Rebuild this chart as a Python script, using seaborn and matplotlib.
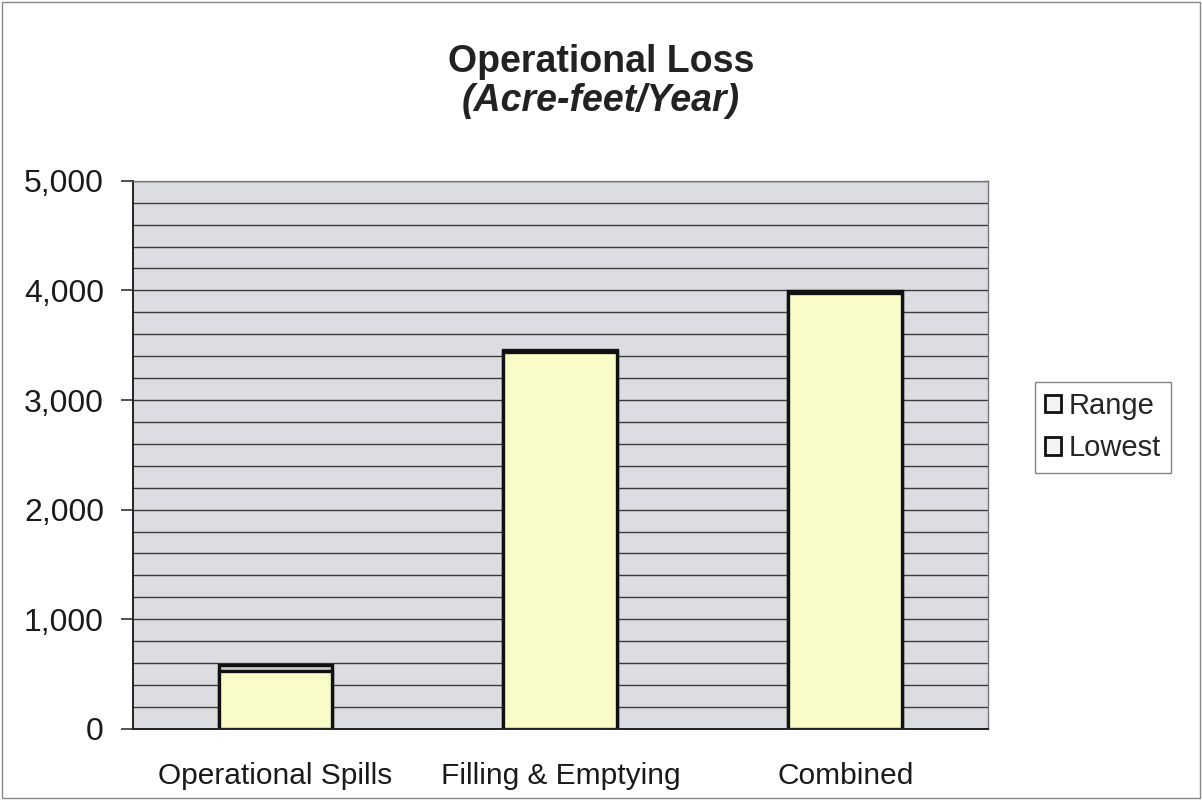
import matplotlib
matplotlib.use("Agg")
import matplotlib.pyplot as plt
import seaborn as sns
import pandas as pd
import numpy as np
from matplotlib.patches import Patch, Rectangle
from matplotlib.ticker import MultipleLocator, FuncFormatter

categories = ["Operational Spills", "Filling & Emptying", "Combined"]
lowest = [530, 3440, 3975]
range_vals = [55, 15, 15]

sns.set_theme(style="white")
plt.rcParams['font.family'] = ['Liberation Sans', 'DejaVu Sans']

df = pd.DataFrame({"cat": categories, "lowest": lowest,
                   "total": np.array(lowest) + np.array(range_vals)})

fig = plt.figure(figsize=(12.02, 8.0), dpi=100)
ax = fig.add_axes([0.1107, 0.089, 0.711, 0.685])
ax.set_facecolor("#dcdce3")

sns.barplot(data=df, x="cat", y="total", color="#c9c9cf", edgecolor="#111111",
            linewidth=2.4, width=0.4, ax=ax, saturation=1)
sns.barplot(data=df, x="cat", y="lowest", color="#fafcc8", edgecolor="#111111",
            linewidth=2.4, width=0.4, ax=ax, saturation=1)

ax.set_ylim(0, 5000)
ax.set_xlim(-0.5, 2.5)
ax.yaxis.set_major_locator(MultipleLocator(1000))
ax.yaxis.set_minor_locator(MultipleLocator(200))
ax.yaxis.set_major_formatter(FuncFormatter(lambda v, p: f"{int(v):,}"))
ax.grid(which="both", axis="y", color="#3a3a3a", linewidth=1.0)
ax.set_axisbelow(True)

ax.set_xticks([0, 1, 2])
ax.set_xticklabels(categories, fontsize=21.5)
ax.tick_params(axis="x", length=0, pad=24, labelcolor="#1a1a1a")
ax.set_xticks([-0.5, 0.5, 1.5, 2.5], minor=True)
ax.tick_params(axis="x", which="minor", length=9, width=1.2, color="#333333", direction="out")
ax.tick_params(axis="y", which="major", length=9, width=1.2, color="#333333",
               direction="out", labelsize=23, pad=12, left=True, labelcolor="#1a1a1a")
ax.tick_params(axis="y", which="minor", length=0)
ax.set_xlabel("")
ax.set_ylabel("")

for s in ["left", "bottom"]:
    ax.spines[s].set_color("#222222")
    ax.spines[s].set_linewidth(1.4)
for s in ["top", "right"]:
    ax.spines[s].set_color("#777777")
    ax.spines[s].set_linewidth(1.0)

fig.text(0.5, 0.922, "Operational Loss", ha="center", va="center",
         fontsize=27, fontweight="bold", color="#222222")
fig.text(0.5, 0.874, "(Acre-feet/Year)", ha="center", va="center",
         fontsize=27, fontweight="bold", fontstyle="italic", color="#222222")

handles = [Patch(facecolor="#f4f4f4", edgecolor="#111111", linewidth=2.0, label="Range"),
           Patch(facecolor="#f4f4f4", edgecolor="#111111", linewidth=2.0, label="Lowest")]
leg = fig.legend(handles=handles, loc="center left", bbox_to_anchor=(0.861, 0.466),
                 fontsize=21, frameon=True, fancybox=False, edgecolor="#666666",
                 handlelength=0.55, handleheight=0.55, handletextpad=0.25,
                 labelspacing=0.5, borderpad=0.35, borderaxespad=0)
leg.get_frame().set_linewidth(1.0)

fig.patches.append(Rectangle((0.002, 0.003), 0.996, 0.994, transform=fig.transFigure,
                             fill=False, edgecolor="#888888", linewidth=1.0))

fig.savefig("out.png", dpi=100)
